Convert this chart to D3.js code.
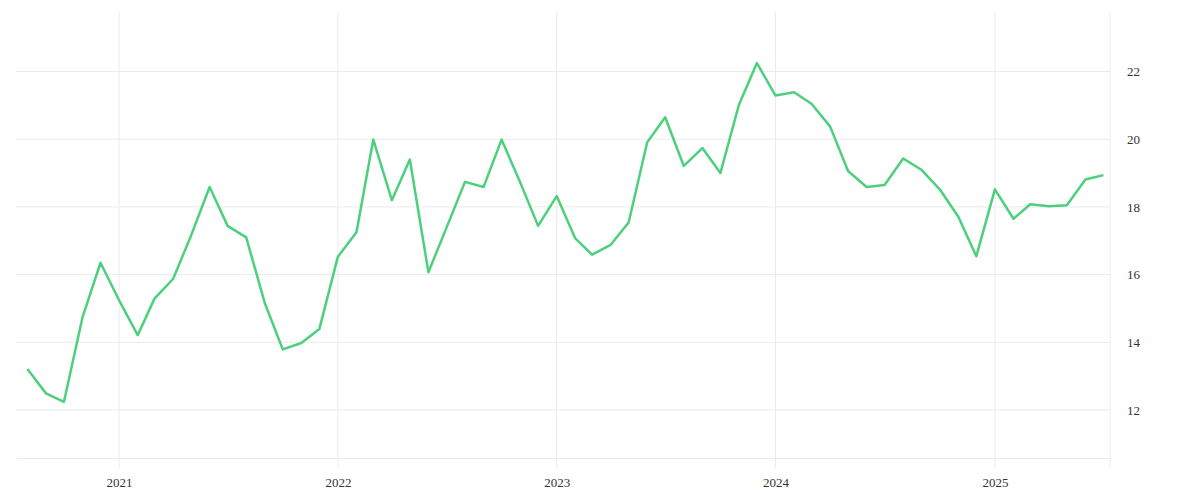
<!DOCTYPE html>
<html>
<head>
<meta charset="utf-8">
<script src="https://cdn.jsdelivr.net/npm/d3@7"></script>
<style>
  body { margin: 0; background: #fff; }
  svg text { font-family: 'Liberation Serif', serif; }
</style>
</head>
<body>
<svg id="chart" width="1200" height="500"></svg>
<script>
// monthly values, Aug 2020 .. Jul 2025
const startMonth = '2020-08'
const values = [
  13.21, 12.49, 12.24, 14.74, 16.35,
  15.24, 14.21, 15.29, 15.87, 17.15, 18.59, 17.44, 17.10, 15.16, 13.79, 13.98, 14.39,
  16.53, 17.25, 19.99, 18.20, 19.40, 16.07, 17.38, 18.74, 18.59, 19.99, 18.73, 17.44,
  18.32, 17.07, 16.59, 16.88, 17.54, 19.91, 20.65, 19.21, 19.74, 19.00, 21.02, 22.25,
  21.29, 21.39, 21.05, 20.38, 19.06, 18.59, 18.65, 19.43, 19.09, 18.52, 17.71, 16.54,
  18.52, 17.65, 18.08, 18.02, 18.05, 18.81, 18.94
]
const yTicks = [12, 14, 16, 18, 20, 22]
const xTickYears = [2021, 2022, 2023, 2024, 2025]

const margin = { left: 16, right: 90, top: 12, bottom: 42 }
const size = { width: 1200, height: 500 }

const parse = d3.utcParse('%Y-%m')
const first = parse(startMonth)
const data = values.map((v, i) => ({ date: d3.utcMonth.offset(first, i), value: v }))

const x = d3.scaleUtc()
  .domain([new Date(Date.UTC(2020, 6, 13)), new Date(Date.UTC(2025, 6, 12))])
  .range([margin.left, size.width - margin.right])

const y = d3.scaleLinear()
  .domain([10.58, 23.76])
  .range([size.height - margin.bottom, margin.top])

const svg = d3.select('#chart')
const gridColor = '#ebebeb'

// horizontal grid
svg.append('g')
  .selectAll('line')
  .data(yTicks)
  .join('line')
  .attr('x1', x.range()[0])
  .attr('x2', x.range()[1])
  .attr('y1', d => y(d))
  .attr('y2', d => y(d))
  .attr('stroke', gridColor)
  .attr('stroke-width', 1)

// vertical grid
const xTicks = xTickYears.map(yr => new Date(Date.UTC(yr, 0, 1)))
svg.append('g')
  .selectAll('line')
  .data(xTicks)
  .join('line')
  .attr('x1', d => x(d))
  .attr('x2', d => x(d))
  .attr('y1', y.range()[1])
  .attr('y2', y.range()[0] + 10)
  .attr('stroke', gridColor)

// x axis
const xAxis = svg.append('g')
  .attr('transform', `translate(0, ${y.range()[0]})`)
  .call(d3.axisBottom(x).tickValues(xTicks).tickFormat(d3.utcFormat('%Y')).tickSize(0).tickPadding(20))
xAxis.select('.domain').attr('stroke', gridColor)
xAxis.selectAll('text').attr('fill', '#333').style('font-size', '13px')

// y axis on the right
const yAxis = svg.append('g')
  .attr('transform', `translate(${x.range()[1]}, 0)`)
  .call(d3.axisRight(y).tickValues(yTicks).tickSize(0).tickPadding(17))
yAxis.select('.domain').attr('stroke', gridColor)
  .attr('d', `M0,${y.range()[1]}V${y.range()[0] + 10}`)
yAxis.selectAll('text').attr('fill', '#333').style('font-size', '13px')

// line
const line = d3.line()
  .x(d => x(d.date))
  .y(d => y(d.value))

svg.append('path')
  .datum(data)
  .attr('fill', 'none')
  .attr('stroke', '#4cd07d')
  .attr('stroke-width', 2.5)
  .attr('stroke-linejoin', 'round')
  .attr('d', line)
</script>
</body>
</html>
